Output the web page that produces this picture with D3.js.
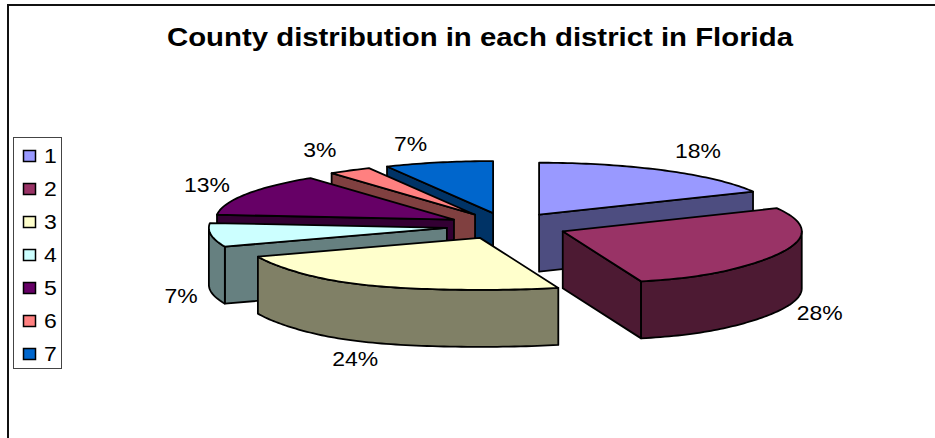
<!DOCTYPE html>
<html>
<head>
<meta charset="utf-8">
<script src="https://cdn.jsdelivr.net/npm/d3@7/dist/d3.min.js"></script>
<style>
html,body{margin:0;padding:0;background:#fff;}
svg{display:block;}
text{font-family:"Liberation Sans",Arial,sans-serif;fill:#000;}
</style>
</head>
<body>
<svg id="chart" width="935" height="438"></svg>
<script>
const titleText = "County distribution in each district in Florida";
const districts = ["1","2","3","4","5","6","7"];
const countyCounts = [12,19,16,5,9,2,5];
const topColors = ["#9999FF","#993366","#FFFFCC","#CCFFFF","#660066","#FF8080","#0066CC"];

// Layout
const W = 935, H = 438;
const cx = 507, cy = 226, rxLeft = 238, rxRight = 239, ry = 52, depth = 57, explode = 0.255;
const frontStretch = 0.25;
const textStretch = 1.12;
const paintOrder = [0,6,5,4,3,1,2];
const labelNudge = [[33,-20],[38,3],[-5,17],[-30,3],[-39,-10],[-30,-21],[-28,-19]];

const svg = d3.select("#chart");
const total = d3.sum(countyCounts);
const pct = d3.format(".0%");
const pie = d3.pie().sort(null).startAngle(0).endAngle(2*Math.PI);
const arcs = pie(countyCounts);

// Ground-plane to screen scales (unit disc -> ellipse)
const sx = d3.scaleLinear().domain([-1,0,1]).range([-rxLeft,0,rxRight]);
const sy = d3.scaleLinear().domain([-1,1]).range([ry,-ry]);
const line = d3.line();

function apex(d){
  const m = (d.startAngle+d.endAngle)/2;
  return [cx+sx(Math.sin(m)*explode), cy+sy(Math.cos(m)*explode)];
}
function rim(d,a){
  const [ax,ay] = apex(d);
  const c = Math.cos(a);
  const s = 1 + frontStretch*Math.pow(Math.max(0,-c),6);
  return [ax+sx(Math.sin(a))*s, ay+sy(c)];
}
function arcPoints(d,a0,a1){
  const n = Math.max(2,Math.ceil((a1-a0)/0.02));
  return d3.range(n+1).map(i=>rim(d,a0+(a1-a0)*i/n));
}
const drop = p => [p[0],p[1]+depth];
const stretchedText = (sel,x,y) => sel.attr("transform",`translate(${x},${y}) scale(${textStretch},1)`);

// Frame
svg.append("path").attr("d",line([[8,H],[8,5],[W,5]]))
  .attr("fill","none").attr("stroke","#111").attr("stroke-width",2);

// Title
svg.append("text").attr("x",480).attr("y",46).attr("text-anchor","middle")
  .attr("font-size",26).attr("font-weight","bold")
  .attr("textLength",626).attr("lengthAdjust","spacingAndGlyphs").text(titleText);

// Slices
const gPie = svg.append("g").attr("stroke","#000").attr("stroke-width",1.8).attr("stroke-linejoin","round");
paintOrder.forEach(i=>{
  const d = arcs[i], a = apex(d), top = topColors[i];
  const side = d3.rgb(top).copy();
  side.r*=.5; side.g*=.5; side.b*=.5;
  const g = gPie.append("g");
  const wall = pts => g.append("path").attr("d",line(pts.concat(pts.slice().reverse().map(drop)))+"Z").attr("fill",side.formatHex());
  // radial walls facing the viewer
  if(Math.sin(d.startAngle)<-1e-6){ wall([a,rim(d,d.startAngle)]); }
  if(Math.sin(d.endAngle)>1e-6){ wall([a,rim(d,d.endAngle)]); }
  // outer wall on the front half
  const a0 = Math.max(d.startAngle,Math.PI/2), a1 = Math.min(d.endAngle,1.5*Math.PI);
  if(a1>a0){ wall(arcPoints(d,a0,a1)); }
  // top face
  g.append("path").attr("d",line([a].concat(arcPoints(d,d.startAngle,d.endAngle)))+"Z").attr("fill",top);
});

// Data labels
const gLabels = svg.append("g").attr("font-size",20.5).attr("text-anchor","middle");
arcs.forEach((d,i)=>{
  const m = (d.startAngle+d.endAngle)/2;
  const p = rim(d,m);
  const front = Math.cos(m)<0 ? depth : 0;
  gLabels.append("text")
    .call(stretchedText,p[0]+labelNudge[i][0],p[1]+front+labelNudge[i][1]+7.5)
    .text(pct(countyCounts[i]/total));
});

// Legend
const legendY = d3.scalePoint().domain(districts).range([156,354]);
svg.append("rect").attr("x",13.5).attr("y",137.5).attr("width",48).attr("height",231)
  .attr("fill","#fff").attr("stroke","#444").attr("stroke-width",1);
const items = svg.append("g").selectAll("g").data(districts).join("g");
items.append("rect").attr("x",23.5).attr("y",d=>legendY(d)-5.5).attr("width",12).attr("height",11)
  .attr("fill",(d,i)=>topColors[i]).attr("stroke","#000").attr("stroke-width",1.5);
items.append("text").attr("font-size",20.5).text(d=>d)
  .each(function(d){ d3.select(this).call(stretchedText,44,legendY(d)+6.5); });
</script>
</body>
</html>
